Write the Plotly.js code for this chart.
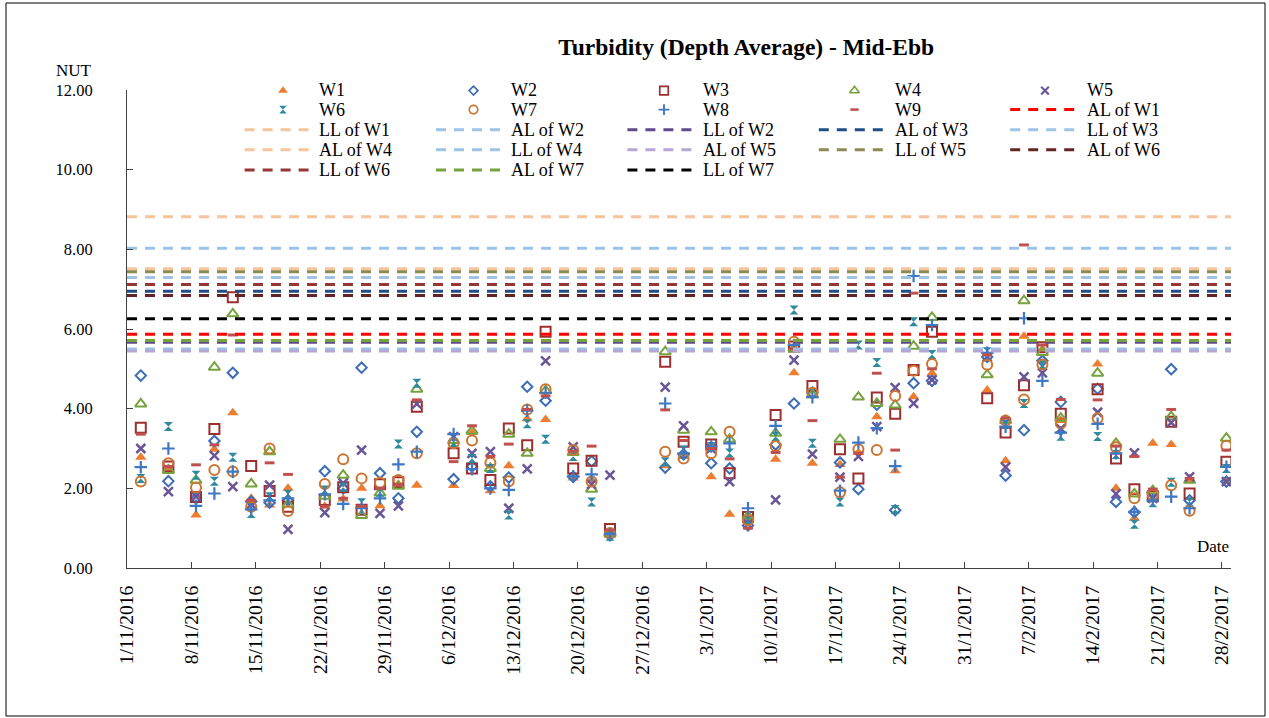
<!DOCTYPE html>
<html><head><meta charset="utf-8">
<script src="https://cdn.plot.ly/plotly-3.0.1.min.js"></script>
<style>html,body{margin:0;padding:0;background:#fff}#chart{width:1269px;height:718px}</style>
</head><body><div id="chart"></div>
<script>
// Sampling dates (points are plotted at the middle of each day, as Excel does on a date axis)
const dates = ['2016-11-02','2016-11-05','2016-11-08','2016-11-10','2016-11-12','2016-11-14','2016-11-16','2016-11-18','2016-11-22','2016-11-24','2016-11-26','2016-11-28','2016-11-30',
'2016-12-02','2016-12-06','2016-12-08','2016-12-10','2016-12-12','2016-12-14','2016-12-16','2016-12-19','2016-12-21','2016-12-23','2016-12-29','2016-12-31',
'2017-01-03','2017-01-05','2017-01-07','2017-01-10','2017-01-12','2017-01-14','2017-01-17','2017-01-19','2017-01-21','2017-01-23','2017-01-25','2017-01-27',
'2017-02-02','2017-02-04','2017-02-06','2017-02-08','2017-02-10','2017-02-14','2017-02-16','2017-02-18','2017-02-20','2017-02-22','2017-02-24','2017-02-28'];

const W1 = [2.78,2.50,1.33,2.98,3.90,1.75,1.58,2.00,1.55,1.73,2.00,1.56,2.10, 2.08,2.07,3.40,1.94,2.57,3.75,3.73,2.26,2.20,0.85,2.57,2.80, 2.29,1.35,1.25,2.73,4.90,2.63,2.60,2.90,3.80,2.44,4.30,4.89, 4.47,2.69,5.82,5.50,3.70,5.12,2.00,1.25,3.13,3.10,2.20,2.20];
const W2 = [4.83,2.18,1.75,3.19,4.90,1.67,1.64,1.70,2.43,2.00,5.03,2.38,1.75, 3.42,2.23,2.55,2.05,2.27,4.55,4.20,2.29,2.68,0.82,2.52,2.85, 2.63,2.50,1.07,3.10,4.13,4.40,2.65,1.98,4.10,1.45,4.64,4.70, 5.30,2.32,3.46,5.20,4.17,4.50,1.66,1.40,1.90,4.99,1.70,2.17];
const W3 = [3.52,2.55,1.78,3.49,6.80,2.56,1.93,1.54,1.71,2.03,1.46,2.10,2.15, 4.05,2.88,2.50,2.21,3.50,3.08,5.93,2.50,2.69,0.98,5.18,3.17, 3.10,2.38,1.28,3.84,5.56,4.57,2.98,2.25,4.28,3.87,4.97,5.93, 4.26,3.40,4.59,5.54,3.87,4.49,2.75,1.98,1.80,3.67,1.87,2.67];
const W4 = [4.12,2.45,2.20,5.04,6.38,2.11,2.92,1.60,1.80,2.33,1.32,1.88,2.05, 4.49,3.20,3.44,2.50,3.36,2.88,4.45,2.90,1.98,0.85,5.43,3.46, 3.42,3.23,1.30,3.38,5.50,4.35,3.23,4.29,4.13,4.09,5.57,6.29, 4.85,3.70,6.71,5.41,3.76,4.89,3.13,1.86,1.94,3.80,2.20,3.26];
const W5 = [3.00,1.92,1.80,2.82,2.04,1.60,2.08,0.97,1.39,2.13,2.96,1.37,1.56, 4.12,3.30,2.88,2.92,1.50,2.49,5.20,3.04,2.10,2.33,4.54,3.57, 3.00,2.17,1.10,1.71,5.22,2.86,2.28,2.80,3.55,4.53,4.13,4.72, 5.30,2.53,4.80,4.90,3.50,3.91,1.86,2.89,1.75,3.65,2.29,2.17];
const W6 = [2.25,3.55,2.33,2.18,2.78,1.37,1.79,1.85,1.96,2.03,1.64,1.90,3.11, 4.64,3.15,2.75,2.50,1.33,3.62,3.23,2.80,1.66,0.80,2.67,2.96, 3.05,2.89,1.20,3.30,6.48,3.13,1.66,5.60,5.16,1.47,6.18,5.36, 5.43,3.60,4.13,5.10,3.31,3.30,2.85,1.10,1.64,2.15,1.66,2.50];
const W7 = [2.17,2.63,2.02,2.46,2.42,1.54,3.00,1.43,2.11,2.73,2.25,2.14,2.21, 2.88,3.13,3.20,2.64,2.18,3.98,4.49,2.96,2.17,0.88,2.92,2.75, 2.88,3.42,1.20,3.06,5.68,4.40,1.90,2.98,2.96,4.32,4.95,5.12, 5.10,3.70,4.23,5.11,3.63,3.76,3.03,1.75,1.83,2.08,1.44,3.07];
const W8 = [2.53,3.00,1.56,1.87,2.42,1.47,1.70,1.75,1.85,1.61,1.50,1.75,2.60, 2.92,3.36,2.48,2.00,1.96,3.95,4.40,2.30,2.35,0.85,4.13,2.88, 3.05,3.13,1.50,3.57,5.60,4.29,1.94,3.15,3.51,2.56,7.33,6.10, 5.40,3.55,6.27,4.70,3.40,3.62,2.88,1.41,1.70,1.79,1.50,2.54];
const W9 = [3.36,2.55,2.59,3.09,5.85,1.70,2.64,2.35,1.55,1.75,1.55,2.00,2.10, 4.22,2.67,3.57,2.80,3.11,3.98,4.32,2.93,3.06,0.95,3.97,3.20, 3.00,2.74,1.00,2.90,5.50,3.70,2.28,2.88,4.89,2.96,6.90,5.00, 5.35,3.76,8.11,5.60,4.23,4.22,3.06,2.80,1.98,3.98,2.25,2.96];

const seriesNames = ['W1','W2','W3','W4','W5','W6','W7','W8','W9'];
const seriesValues = [W1,W2,W3,W4,W5,W6,W7,W8,W9];

// Action (AL) and Limit (LL) levels, NTU
const limitNames  = ['AL of W1','LL of W1','AL of W2','LL of W2','AL of W3','LL of W3','AL of W4','LL of W4','AL of W5','LL of W5','AL of W6','LL of W6','AL of W7','LL of W7'];
const limitValues = [5.87, 8.82, 5.50, 5.67, 6.95, 7.29, 7.51, 8.03, 5.45, 7.44, 6.84, 7.12, 5.71, 6.26];

// x-axis ticks (weekly)
const axisStart = '2016-11-01', axisEnd = '2017-03-01';
const tickDates = ['2016-11-01','2016-11-08','2016-11-15','2016-11-22','2016-11-29','2016-12-06','2016-12-13','2016-12-20','2016-12-27','2017-01-03','2017-01-10','2017-01-17','2017-01-24','2017-01-31','2017-02-07','2017-02-14','2017-02-21','2017-02-28'];
const tickLabels = ['1/11/2016','8/11/2016','15/11/2016','22/11/2016','29/11/2016','6/12/2016','13/12/2016','20/12/2016','27/12/2016','3/1/2017','10/1/2017','17/1/2017','24/1/2017','31/1/2017','7/2/2017','14/2/2017','21/2/2017','28/2/2017'];

// styles
const mSymbols = ['triangle-up','diamond-open','square-open','triangle-up-open','x-thin-open','hourglass','circle-open','cross-thin-open','line-ew-open'];
const mColors  = ['#ED7D31','#3D6DB5','#9E2F2F','#77A33F','#6A5696','#2F8A9E','#CD7430','#3E78C2','#C0504D'];
const mSizes   = [10,8,10,10,9,9,10,9,7];
const mWidths  = [0,2,2,2,2.5,0,2,2.2,3];
const lColors  = ['#FF0000','#F8C49C','#9DC3E6','#5F4B8B','#1F4E89','#9DC3E6','#F8C49C','#9DC3E6','#B4A7D6','#8C8A52','#632523','#953735','#77A33F','#000000'];
const DASH = '10px,8px';

// plot-area geometry in pixels
const PL = 127, PR = 1231, PT = 90, PB = 568;
const FONT = 'Liberation Serif, Times New Roman, serif';
const pxX = p => (p - PL) / (PR - PL);   // pixel -> paper
const pxY = p => (PB - p) / (PB - PT);

const traces = [];
const px = dates.map(d => d + ' 12:00');
seriesNames.forEach((n, i) => {
  traces.push({
    type: 'scatter', mode: 'markers', name: n, x: px, y: seriesValues[i], showlegend: false,
    marker: {symbol: mSymbols[i], size: mSizes[i], color: mColors[i], line: {color: mColors[i], width: mWidths[i]}}
  });
});
limitNames.forEach((n, i) => {
  traces.push({
    type: 'scatter', mode: 'lines', name: n, x: [axisStart, axisEnd], y: [limitValues[i], limitValues[i]], showlegend: false,
    line: {color: lColors[i], width: 3, dash: DASH}
  });
});

// ---- hand-built legend (5 columns, Excel order) ----
const legendItems = seriesNames.concat(limitNames);
const annotations = [];
const shapes = [];
const colX = c => 319 + 192 * c;   // text start
const rowY = r => 89.5 + 20.1 * r; // row centre
legendItems.forEach((name, k) => {
  const c = k % 5, r = Math.floor(k / 5);
  if (k < seriesNames.length) {
    // legend symbol drawn on a pixel-scaled overlay axis (must lie within its range)
    traces.push({type: 'scatter', mode: 'markers', xaxis: 'x2', yaxis: 'y2', showlegend: false, cliponaxis: false, hoverinfo: 'skip',
      x: [283 + 190.5 * c], y: [Math.max(rowY(r), PT + 0.6)],
      marker: {symbol: mSymbols[k], size: mSizes[k] * 0.85, color: mColors[k], line: {color: mColors[k], width: mWidths[k] * 0.85}}});
  } else {
    const j = k - seriesNames.length;
    shapes.push({type: 'line', xref: 'paper', yref: 'paper', x0: pxX(244.6 + 191.4 * c), x1: pxX(309.6 + 191.4 * c), y0: pxY(rowY(r)), y1: pxY(rowY(r)),
      line: {color: lColors[j], width: 3, dash: DASH}});
  }
  annotations.push({text: name, xref: 'paper', yref: 'paper', x: pxX(colX(c) - 2), y: pxY(rowY(r)), xanchor: 'left', yanchor: 'middle',
    showarrow: false, font: {family: FONT, size: 18, color: '#000'}});
});

annotations.push({text: 'NUT', xref: 'paper', yref: 'paper', x: pxX(74), y: pxY(70), showarrow: false, xanchor: 'center', yanchor: 'middle', font: {family: FONT, size: 17}});
annotations.push({text: 'Date', xref: 'paper', yref: 'paper', x: pxX(1213), y: pxY(546), showarrow: false, xanchor: 'center', yanchor: 'middle', font: {family: FONT, size: 17}});
shapes.push({type: 'rect', xref: 'paper', yref: 'paper', x0: pxX(6), x1: pxX(1265), y0: pxY(716), y1: pxY(3),
  line: {color: '#000', width: 1}, fillcolor: 'rgba(0,0,0,0)', layer: 'below'});

const layout = {
  width: 1269, height: 718,
  margin: {l: PL, r: 1269 - PR, t: PT, b: 718 - PB},
  paper_bgcolor: '#fff', plot_bgcolor: '#fff',
  font: {family: FONT, size: 16, color: '#000'},
  showlegend: false,
  title: {text: '<b>Turbidity (Depth Average) - Mid-Ebb</b>', font: {family: FONT, size: 23.5, color: '#000'},
          x: 0.588, xref: 'container', xanchor: 'center', y: 1 - 47/718, yref: 'container', yanchor: 'middle'},
  xaxis: {type: 'date', range: [axisStart, axisEnd], tickmode: 'array', tickvals: tickDates, ticktext: tickLabels,
          tickangle: -90, ticks: 'inside', ticklen: 6, tickcolor: '#404040', showline: true, linecolor: '#404040', linewidth: 1,
          ticklabelstandoff: 9, showgrid: false, zeroline: false, tickfont: {family: FONT, size: 19.5, color: '#000'}, fixedrange: true},
  yaxis: {range: [0, 12], dtick: 2, tick0: 0, tickformat: '.2f', ticks: 'inside', ticklen: 6, tickcolor: '#404040',
          showline: true, linecolor: '#404040', linewidth: 1, showgrid: false, zeroline: false,
          ticklabelstandoff: 30, tickfont: {family: FONT, size: 16.5, color: '#000'}, fixedrange: true},
  xaxis2: {overlaying: 'x', range: [PL, PR], visible: false, fixedrange: true},
  yaxis2: {overlaying: 'y', range: [PB, PT], visible: false, fixedrange: true},
  annotations: annotations,
  shapes: shapes
};

Plotly.newPlot('chart', traces, layout, {displayModeBar: false, staticPlot: true});
</script></body></html>
